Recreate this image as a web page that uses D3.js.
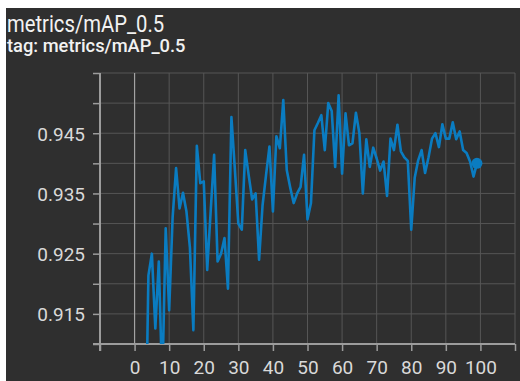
<!DOCTYPE html>
<html>
<head>
<meta charset="utf-8">
<script src="https://cdn.jsdelivr.net/npm/d3@7"></script>
<style>
  html, body { margin: 0; padding: 0; background: #fff; }
  svg { display: block; }
</style>
</head>
<body>
<svg id="chart" width="520" height="381"></svg>
<script>
// data (epochs 0-2 fall below the visible range)
const steps = [3, 4, 5, 6, 7, 8, 9, 10, 11, 12, 13, 14, 15, 16, 17, 18, 19, 20,
  21, 22, 23, 24, 25, 26, 27, 28, 29, 30, 31, 32, 33, 34, 35, 36, 37, 38, 39, 40,
  41, 42, 43, 44, 45, 46, 47, 48, 49, 50, 51, 52, 53, 54, 55, 56, 57, 58, 59, 60,
  61, 62, 63, 64, 65, 66, 67, 68, 69, 70, 71, 72, 73, 74, 75, 76, 77, 78, 79, 80,
  81, 82, 83, 84, 85, 86, 87, 88, 89, 90, 91, 92, 93, 94, 95, 96, 97, 98, 99];
const mapValues = [0.886, 0.9214, 0.925, 0.9126, 0.9237, 0.903, 0.9292, 0.9156, 0.931, 0.9392,
  0.9325, 0.9351, 0.932, 0.926, 0.9123, 0.9429, 0.9367, 0.937, 0.9223, 0.932,
  0.9414, 0.9237, 0.925, 0.9276, 0.9192, 0.9477, 0.939, 0.930, 0.929, 0.9422,
  0.938, 0.934, 0.935, 0.924, 0.933, 0.938, 0.9428, 0.932, 0.9445, 0.9425,
  0.9505, 0.9389, 0.936, 0.9334, 0.935, 0.9361, 0.9414, 0.9307, 0.9334, 0.9455,
  0.9467, 0.948, 0.9422, 0.950, 0.9487, 0.9394, 0.9513, 0.9383, 0.9483, 0.943,
  0.9433, 0.9484, 0.945, 0.935, 0.944, 0.9394, 0.9426, 0.9408, 0.9388, 0.9403,
  0.9346, 0.9441, 0.9422, 0.9464, 0.942, 0.941, 0.9404, 0.929, 0.9376, 0.9405,
  0.9422, 0.9384, 0.941, 0.9441, 0.945, 0.9427, 0.9465, 0.9441, 0.9441, 0.9468,
  0.944, 0.9453, 0.9422, 0.9417, 0.9403, 0.9378, 0.940];

const xTicks = [-10, 0, 10, 20, 30, 40, 50, 60, 70, 80, 90, 100, 110];
const xLabels = [0, 10, 20, 30, 40, 50, 60, 70, 80, 90, 100];
const yTicks = [0.910, 0.915, 0.920, 0.925, 0.930, 0.935, 0.940, 0.945, 0.950, 0.955];
const yLabels = [0.915, 0.925, 0.935, 0.945];

const title = 'metrics/mAP_0.5';
const subtitle = 'tag: metrics/mAP_0.5';

const data = steps.map((s, i) => ({ step: s, value: mapValues[i] }));

const svg = d3.select('#chart');
const plot = { left: 100, right: 515, top: 73, bottom: 344 };

// dark card
svg.append('rect')
  .attr('x', 6).attr('y', 8)
  .attr('width', 514).attr('height', 373)
  .attr('fill', '#2f2f2f');

svg.append('text')
  .attr('x', 7).attr('y', 32)
  .attr('font-family', 'Roboto, sans-serif')
  .attr('font-size', 23)
  .attr('fill', '#f2f2f2')
  .attr('transform', 'translate(7,0) scale(0.88,1) translate(-7,0)')
  .text(title);

svg.append('text')
  .attr('x', 7).attr('y', 52)
  .attr('font-family', 'Roboto, sans-serif')
  .attr('font-size', 18.3)
  .attr('font-weight', 500)
  .attr('fill', '#f2f2f2')
  .text(subtitle);

const x = d3.scaleLinear().domain([-10, 110]).range([plot.left, plot.right]);
const y = d3.scaleLinear().domain([0.910, 0.955]).range([plot.bottom, plot.top]);

// grid
const grid = svg.append('g');
grid.selectAll('.vg').data(xTicks.filter(d => d !== 0 && d !== -10)).enter()
  .append('line')
  .attr('x1', d => x(d)).attr('x2', d => x(d))
  .attr('y1', plot.top).attr('y2', plot.bottom)
  .attr('stroke', '#565656').attr('stroke-width', 1);
grid.selectAll('.hg').data(yTicks.filter(d => d !== 0.910)).enter()
  .append('line')
  .attr('x1', plot.left).attr('x2', plot.right)
  .attr('y1', d => y(d)).attr('y2', d => y(d))
  .attr('stroke', '#565656').attr('stroke-width', 1);
// zero line
grid.append('line')
  .attr('x1', x(0)).attr('x2', x(0))
  .attr('y1', plot.top).attr('y2', plot.bottom)
  .attr('stroke', '#a3a3a3').attr('stroke-width', 1.2);

// axes
const xAxis = d3.axisBottom(x)
  .tickValues(xTicks)
  .tickSize(7)
  .tickSizeOuter(0)
  .tickPadding(6)
  .tickFormat(d => xLabels.includes(d) ? d : '');
const yAxis = d3.axisLeft(y)
  .tickValues(yTicks)
  .tickSize(7)
  .tickSizeOuter(0)
  .tickPadding(8)
  .tickFormat(d => yLabels.includes(d) ? d3.format('.3f')(d) : '');

const gx = svg.append('g').attr('transform', `translate(0,${plot.bottom})`).call(xAxis);
const gy = svg.append('g').attr('transform', `translate(${plot.left},0)`).call(yAxis);

[gx, gy].forEach(g => {
  g.select('.domain').remove();
  g.selectAll('.tick line').attr('stroke', '#9c9c9c').attr('stroke-width', 1.5);
  g.selectAll('.tick text')
    .attr('fill', '#d9d9d9')
    .attr('font-family', 'Roboto, sans-serif')
    .attr('font-size', 19);
});
gx.selectAll('.tick text').attr('dy', '0.9em');
gy.selectAll('.tick text').attr('dy', '0.36em');

svg.append('line')
  .attr('x1', plot.left - 7).attr('x2', plot.right)
  .attr('y1', plot.bottom).attr('y2', plot.bottom)
  .attr('stroke', '#9c9c9c').attr('stroke-width', 2);
svg.append('line')
  .attr('x1', plot.left).attr('x2', plot.left)
  .attr('y1', plot.top).attr('y2', plot.bottom + 7)
  .attr('stroke', '#9c9c9c').attr('stroke-width', 2);

// series
svg.append('clipPath').attr('id', 'plot-clip')
  .append('rect')
  .attr('x', plot.left).attr('y', plot.top)
  .attr('width', plot.right - plot.left).attr('height', plot.bottom - plot.top);

const line = d3.line()
  .x(d => x(d.step))
  .y(d => y(d.value));

svg.append('path')
  .datum(data)
  .attr('clip-path', 'url(#plot-clip)')
  .attr('fill', 'none')
  .attr('stroke', '#0a7cc1')
  .attr('stroke-width', 2.6)
  .attr('stroke-linejoin', 'round')
  .attr('d', line);

const last = data[data.length - 1];
svg.append('circle')
  .attr('cx', x(last.step))
  .attr('cy', y(last.value))
  .attr('r', 5.5)
  .attr('fill', '#0a7cc1');
</script>
</body>
</html>
